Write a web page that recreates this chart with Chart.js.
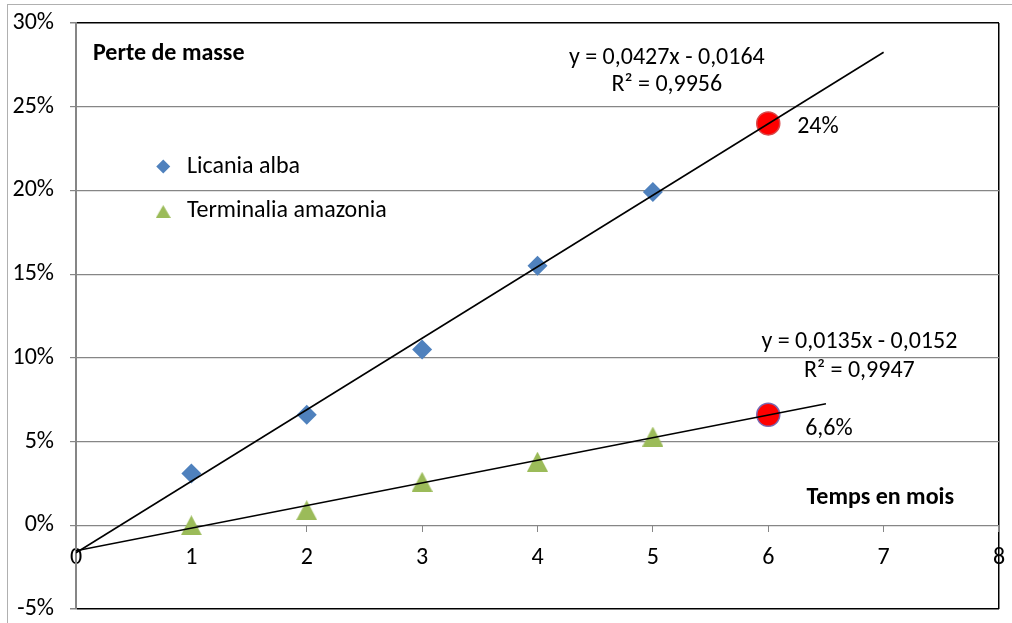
<!DOCTYPE html>
<html><head><meta charset="utf-8">
<script src="https://cdn.jsdelivr.net/npm/chart.js@4"></script>
<style>html,body{margin:0;padding:0;background:#fff}#wrap{width:1012px;height:623px;position:relative}</style>
</head><body><div id="wrap"><canvas id="c"></canvas></div>
<script>
// ---- data ----
const months = [1, 2, 3, 4, 5];
const licaniaAlba = [3.1, 6.6, 10.5, 15.5, 19.9];
const terminaliaAmazonia = [0.0, 0.9, 2.6, 3.8, 5.3];
const forecastMonth = [6];
const licaniaForecast = [24];
const terminaliaForecast = [6.6];
const licaniaTrendX = [0, 7];
const licaniaTrendY = [-1.64, 28.25];
const terminaliaTrendX = [0, 6.5];
const terminaliaTrendY = [-1.52, 7.26];
const xTickValues = [0, 1, 2, 3, 4, 5, 6, 7, 8];
const yTickValues = [-5, 0, 5, 10, 15, 20, 25, 30];
const seriesNames = ['Licania alba', 'Terminalia amazonia'];
const equationLabels = ['y = 0,0427x - 0,0164', 'R² = 0,9956', 'y = 0,0135x - 0,0152', 'R² = 0,9947'];
const forecastLabels = ['24%', '6,6%'];
const yTitle = 'Perte de masse';
const xTitle = 'Temps en mois';

// ---- styles ----
const FONT = "Carlito, Calibri, Lato, 'Open Sans', sans-serif";
const BLUE = '#4f81bd', GREEN = '#9bbb59', GRID = '#868686';
const TEXT_SIZE = 24, TICK_SIZE = 24;

function makeTriangle(w, h, color) {
  const c = document.createElement('canvas');
  c.width = w; c.height = h;
  const g = c.getContext('2d');
  g.fillStyle = color;
  g.beginPath(); g.moveTo(w / 2, 0); g.lineTo(w, h); g.lineTo(0, h); g.closePath(); g.fill();
  return c;
}
const triBig = makeTriangle(21, 20, GREEN);
const triSmall = makeTriangle(15, 13, GREEN);

const pts = (xs, ys) => xs.map((v, i) => ({ x: v, y: ys[i] }));

const annot = {
  id: 'annot',
  beforeDraw(chart) {
    const ctx = chart.ctx;
    ctx.save();
    ctx.strokeStyle = '#b0b0b0'; ctx.lineWidth = 1;
    ctx.strokeRect(7.5, 4.5, 1100, 700);
    ctx.restore();
  },
  afterDatasetsDraw(chart) {
    const { ctx, scales: { x, y } } = chart;
    const px = v => x.getPixelForValue(v), py = v => y.getPixelForValue(v);
    const texts = [
      { t: yTitle, x: 0.147, y: 27.77, a: 'left', b: true },
      { t: equationLabels[0], x: 5.121, y: 27.57, a: 'center' },
      { t: equationLabels[1], x: 5.121, y: 25.92, a: 'center' },
      { t: equationLabels[2], x: 6.79, y: 10.57, a: 'center' },
      { t: equationLabels[3], x: 6.79, y: 8.83, a: 'center' },
      { t: forecastLabels[0], x: 6.251, y: 23.43, a: 'left' },
      { t: forecastLabels[1], x: 6.32, y: 5.42, a: 'left' },
      { t: xTitle, x: 6.971, y: 1.30, a: 'center', b: true },
      { t: seriesNames[0], x: 0.961, y: 21.04, a: 'left' },
      { t: seriesNames[1], x: 0.961, y: 18.40, a: 'left' }
    ];
    ctx.save();
    ctx.fillStyle = '#000';
    ctx.textBaseline = 'alphabetic';
    texts.forEach(o => {
      ctx.font = (o.b ? 'bold ' : '') + TEXT_SIZE + 'px ' + FONT;
      ctx.textAlign = o.a;
      ctx.fillText(o.t, px(o.x), py(o.y));
    });
    // legend markers
    const lx = px(0.756);
    const d1 = py(21.43), r = 7;
    ctx.fillStyle = BLUE;
    ctx.beginPath(); ctx.moveTo(lx, d1 - r); ctx.lineTo(lx + r, d1); ctx.lineTo(lx, d1 + r); ctx.lineTo(lx - r, d1); ctx.closePath(); ctx.fill();
    const d2 = py(18.74);
    ctx.drawImage(triSmall, lx - triSmall.width / 2, d2 - triSmall.height / 2);
    ctx.restore();
  }
};

new Chart(document.getElementById('c'), {
  type: 'scatter',
  data: {
    datasets: [
      { label: 'trend1', data: pts(licaniaTrendX, licaniaTrendY), showLine: true, borderColor: '#000', borderWidth: 1.6, pointRadius: 0, order: 0 },
      { label: 'trend2', data: pts(terminaliaTrendX, terminaliaTrendY), showLine: true, borderColor: '#000', borderWidth: 1.6, pointRadius: 0, order: 0 },
      { label: seriesNames[0], data: pts(months, licaniaAlba), pointStyle: 'rectRot', pointRadius: 10, pointBackgroundColor: BLUE, pointBorderWidth: 0, order: 2 },
      { label: seriesNames[1], data: pts(months, terminaliaAmazonia), pointStyle: triBig, pointBackgroundColor: GREEN, pointBorderWidth: 0, order: 2 },
      { label: 'p1', data: pts(forecastMonth, licaniaForecast), pointStyle: 'circle', pointRadius: 11.5, pointBackgroundColor: '#ff0000', pointBorderColor: '#d8484a', pointBorderWidth: 1.5, order: 1 },
      { label: 'p2', data: pts(forecastMonth, terminaliaForecast), pointStyle: 'circle', pointRadius: 11.5, pointBackgroundColor: '#ff0000', pointBorderColor: '#7a68b0', pointBorderWidth: 1.5, order: 1 }
    ]
  },
  options: {
    responsive: true, maintainAspectRatio: false, animation: false,
    layout: { padding: { left: 0, top: 23, right: 12, bottom: 14 } },
    plugins: { legend: { display: false }, tooltip: { enabled: false } },
    scales: {
      x: {
        type: 'linear', min: 0, max: 8, position: { y: 0 },
        afterBuildTicks: s => { s.ticks = xTickValues.map(v => ({ value: v })); },
        afterFit: s => { s.height = 0; s.paddingLeft = 0; s.paddingRight = 0; s.paddingTop = 0; s.paddingBottom = 0; },
        ticks: { color: '#000', font: { family: FONT, size: TICK_SIZE }, padding: 12, maxRotation: 0, callback: v => String(v) },
        grid: {
          color: c => (c.tick && c.tick.value === 8 ? '#000' : 'rgba(0,0,0,0)'),
          lineWidth: c => (c.tick && c.tick.value === 8 ? 1.5 : 1),
          tickColor: GRID, tickLength: 6, drawTicks: true
        },
        border: { display: true, color: GRID, width: 1 }
      },
      y: {
        type: 'linear', min: -5, max: 30, position: 'left',
        afterBuildTicks: s => { s.ticks = yTickValues.map(v => ({ value: v })); },
        afterFit: s => { s.width = 76; s.paddingTop = 0; s.paddingBottom = 0; s.paddingLeft = 0; s.paddingRight = 0; },
        ticks: { color: '#000', font: { family: FONT, size: TICK_SIZE }, padding: 16, callback: v => v + '%' },
        grid: {
          color: c => (c.tick && (c.tick.value === 30 || c.tick.value === -5) ? '#000' : GRID),
          lineWidth: c => (c.tick && (c.tick.value === 30 || c.tick.value === -5) ? 1.5 : 1.2),
          tickColor: GRID, tickLength: 6, drawTicks: true
        },
        border: { display: true, color: GRID, width: 2 }
      }
    }
  },
  plugins: [annot]
});
</script>
</body></html>
